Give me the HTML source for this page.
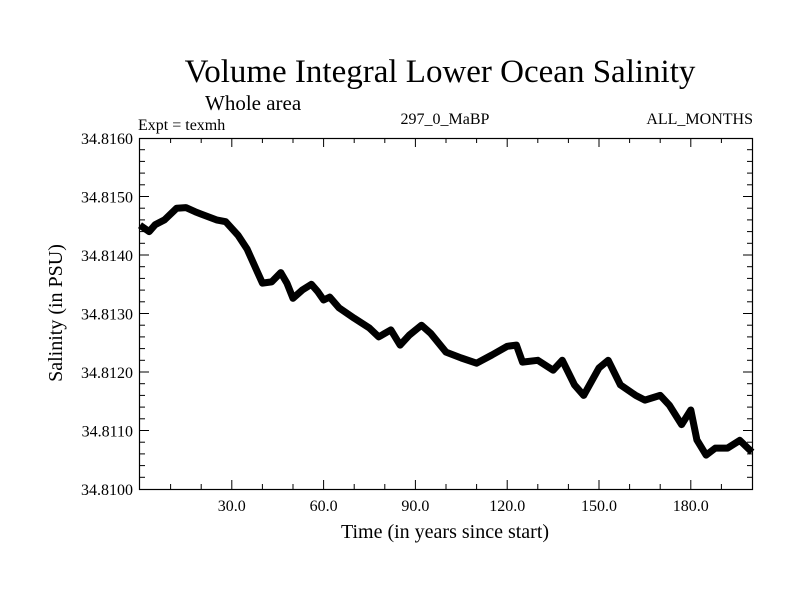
<!DOCTYPE html>
<html><head><meta charset="utf-8"><style>
body{margin:0;background:#fff}
svg{display:block;font-family:"Liberation Serif",serif}
</style></head><body>
<svg id="chart" width="800" height="600" viewBox="0 0 800 600">
<rect width="800" height="600" fill="#fff"/>
<text x="440" y="82" font-size="33" text-anchor="middle">Volume Integral Lower Ocean Salinity</text>
<text x="205" y="110" font-size="21">Whole area</text>
<text x="138" y="130" font-size="16">Expt = texmh</text>
<text x="445" y="124" font-size="16" text-anchor="middle">297_0_MaBP</text>
<text x="753" y="124" font-size="16" text-anchor="end">ALL_MONTHS</text>
<text x="445" y="538" font-size="20" text-anchor="middle">Time (in years since start)</text>
<text transform="translate(62,313) rotate(-90)" font-size="20" text-anchor="middle">Salinity (in PSU)</text>
<g id="axes"></g>
<g id="series"></g>
<rect x="139.5" y="138.5" width="613" height="351" fill="none" stroke="#000" stroke-width="1.2"/>
</svg>
<script>
const years=[0,3,5,8,12,15,18,20,25,28,32,35,38,40,43,46,48,50,53,56,58,60,62,65,70,75,78,82,85,88,92,95,100,105,110,115,120,123,125,130,135,138,142,145,150,153,157,162,165,170,173,177,180,182,185,188,192,196,200];
const salinity=[34.81451,34.81440,34.81452,34.81460,34.81480,34.81481,34.81474,34.81470,34.81460,34.81457,34.81434,34.81410,34.81375,34.81352,34.81354,34.81370,34.81352,34.81326,34.81340,34.81350,34.81338,34.81323,34.81328,34.81310,34.81292,34.81275,34.81260,34.81272,34.81246,34.81263,34.81280,34.81266,34.81234,34.81224,34.81215,34.81229,34.81244,34.81246,34.81217,34.81220,34.81203,34.81220,34.81178,34.81160,34.81207,34.81220,34.81178,34.81160,34.81152,34.81160,34.81143,34.81110,34.81135,34.81084,34.81058,34.81070,34.81070,34.81083,34.81063];
const xTicks=[30,60,90,120,150,180];
const xTickLabels=["30.0","60.0","90.0","120.0","150.0","180.0"];
const yTicks=[34.8100,34.8110,34.8120,34.8130,34.8140,34.8150,34.8160];
const yTickLabels=["34.8100","34.8110","34.8120","34.8130","34.8140","34.8150","34.8160"];
const X0=140,X1=752,Y0=489,Y1=138,xmin=0,xmax=200,ymin=34.8100,ymax=34.8160;
const xs=t=>X0+(t-xmin)/(xmax-xmin)*(X1-X0);
const ys=v=>Y0-(v-ymin)/(ymax-ymin)*(Y0-Y1);
const NS="http://www.w3.org/2000/svg";
const axes=document.getElementById('axes');
function mk(tag,attrs,parent){const e=document.createElementNS(NS,tag);for(const k in attrs)e.setAttribute(k,attrs[k]);parent.appendChild(e);return e;}
for(let t=10;t<200;t+=10){const major=t%30===0;const L=major?9:5;
 const a=mk('line',{x1:xs(t),x2:xs(t),y1:Y0,y2:Y0-L,stroke:'#000'},axes);
 
 
 const b=mk('line',{x1:xs(t),x2:xs(t),y1:Y1,y2:Y1+L,stroke:'#000'},axes);
 
 }
xTicks.forEach((t,i)=>{const tx=mk('text',{x:xs(t),y:Y0+22,'font-size':16,'text-anchor':'middle'},axes);tx.textContent=xTickLabels[i];
 
 });
for(let k=1;k<30;k++){const v=ymin+k*0.0002;const major=k%5===0;const L=major?9:5;
 const a=mk('line',{x1:X0,x2:X0+L,y1:ys(v),y2:ys(v),stroke:'#000'},axes);
 
 
 const b=mk('line',{x1:X1,x2:X1-L,y1:ys(v),y2:ys(v),stroke:'#000'},axes);
 
 }
yTicks.forEach((v,i)=>{const tx=mk('text',{x:X0-7,y:ys(v)+6,'font-size':16,'text-anchor':'end'},axes);tx.textContent=yTickLabels[i];
 
 });
const d=years.map((t,i)=>(i?'L':'M')+xs(t).toFixed(1)+','+ys(salinity[i]).toFixed(1)).join(' ');
const p=mk('path',{d:d,fill:'none',stroke:'#000','stroke-width':7,'stroke-linejoin':'round','stroke-linecap':'butt'},document.getElementById('series'));


</script>
</body></html>
